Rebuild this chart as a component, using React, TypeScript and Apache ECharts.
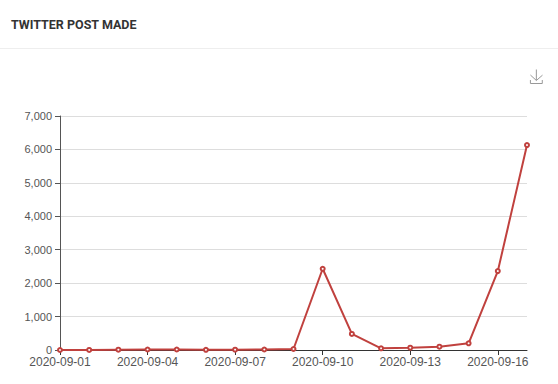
import React, { useEffect, useRef } from "react";
import * as echarts from "echarts";

const categories = [
  "2020-09-01", "2020-09-02", "2020-09-03", "2020-09-04", "2020-09-05",
  "2020-09-06", "2020-09-07", "2020-09-08", "2020-09-09", "2020-09-10",
  "2020-09-11", "2020-09-12", "2020-09-13", "2020-09-14", "2020-09-15",
  "2020-09-16", "2020-09-17",
];
const posts = [0, 2, 10, 15, 15, 5, 10, 15, 30, 2430, 480, 50, 70, 100, 200, 2360, 6130];
const titleText = "TWITTER POST MADE";

export default function App() {
  const ref = useRef<HTMLDivElement>(null);
  useEffect(() => {
    const chart = echarts.init(ref.current!, undefined, { renderer: "svg" });
    chart.setOption({
      animation: false,
      backgroundColor: "#fff",
      title: {
        text: titleText,
        left: 6,
        top: 13,
        textStyle: { fontSize: 12.5, fontWeight: "bold", color: "#333", fontFamily: "Roboto, sans-serif" },
      },
      graphic: [
        {
          type: "line",
          shape: { x1: 0, y1: 48.5, x2: 558, y2: 48.5 },
          style: { stroke: "#eeeeee", lineWidth: 1 },
        },
      ],
      toolbox: {
        right: -2,
        top: 52,
        itemSize: 14,
        feature: { saveAsImage: { title: "" } },
        iconStyle: { borderColor: "#999" },
      },
      grid: { left: 60, right: 31, top: 116, bottom: 34 },
      xAxis: {
        type: "category",
        boundaryGap: false,
        data: categories,
        axisLine: { lineStyle: { color: "#333" } },
        axisTick: { interval: 2, lineStyle: { color: "#333" } },
        axisLabel: { interval: 2, color: "#555", fontSize: 12, margin: 6 },
      },
      yAxis: {
        type: "value",
        min: 0,
        max: 7000,
        interval: 1000,
        axisLine: { show: true, lineStyle: { color: "#555" } },
        axisTick: { show: true, lineStyle: { color: "#555" } },
        axisLabel: { color: "#555", fontSize: 11 },
        splitLine: { lineStyle: { color: "#dddddd" } },
      },
      series: [
        {
          type: "line",
          data: posts,
          symbol: "emptyCircle",
          symbolSize: 4,
          itemStyle: { color: "#c0413e" },
          lineStyle: { color: "#c0413e", width: 2 },
        },
      ],
    });
    return () => chart.dispose();
  }, []);
  return (
    <div
      ref={ref}
      style={{ position: "fixed", left: 0, top: 0, width: 558, height: 384 }}
    />
  );
}
